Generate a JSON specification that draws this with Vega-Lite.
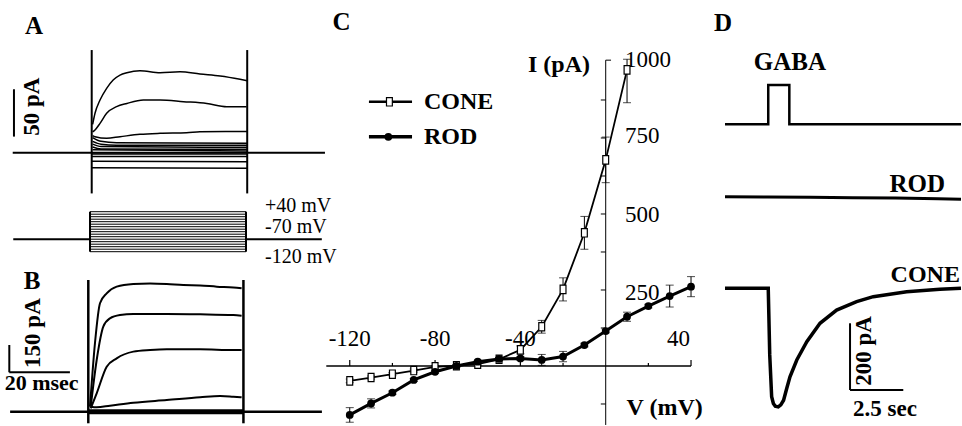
{
  "$schema": "https://vega.github.io/schema/vega-lite/v6.json",
  "width": 962,
  "height": 426,
  "padding": 0,
  "autosize": {"type": "none"},
  "background": "white",
  "config": {
    "view": {"stroke": null},
    "text": {"font": "Liberation Serif", "fontSize": 23, "color": "black"},
    "line": {"color": "black"},
    "rule": {"color": "black"},
    "tick": {"color": "black"}
  },
  "resolve": {"scale": {"x": "independent", "y": "independent"}},
  "datasets": {
    "cone": [
      {"V": -120, "I": -49, "lo": -55, "hi": -43},
      {"V": -110, "I": -38, "lo": -43, "hi": -33},
      {"V": -100, "I": -27, "lo": -32, "hi": -22},
      {"V": -90, "I": -15, "lo": -20, "hi": -10},
      {"V": -80, "I": -3, "lo": -7, "hi": 1},
      {"V": -70, "I": 1, "lo": -2, "hi": 4},
      {"V": -60, "I": 6, "lo": 3, "hi": 9},
      {"V": -50, "I": 22, "lo": 17, "hi": 27},
      {"V": -40, "I": 53, "lo": 40, "hi": 66},
      {"V": -30, "I": 129, "lo": 108, "hi": 150},
      {"V": -20, "I": 252, "lo": 214, "hi": 290},
      {"V": -10, "I": 438, "lo": 384, "hi": 492},
      {"V": 0, "I": 678, "lo": 603, "hi": 753},
      {"V": 10, "I": 974, "lo": 866, "hi": 1009}
    ],
    "rod": [
      {"V": -120, "I": -161, "lo": -185, "hi": -137},
      {"V": -110, "I": -123, "lo": -138, "hi": -108},
      {"V": -100, "I": -88, "lo": -94, "hi": -82},
      {"V": -90, "I": -46, "lo": -51, "hi": -41},
      {"V": -80, "I": -19, "lo": -24, "hi": -14},
      {"V": -70, "I": 0, "lo": -4, "hi": 4},
      {"V": -60, "I": 14, "lo": 10, "hi": 18},
      {"V": -50, "I": 23, "lo": 18, "hi": 28},
      {"V": -40, "I": 25, "lo": 19, "hi": 31},
      {"V": -30, "I": 20, "lo": 2, "hi": 38},
      {"V": -20, "I": 31, "lo": 14, "hi": 48},
      {"V": -10, "I": 69, "lo": 63, "hi": 75},
      {"V": 0, "I": 115, "lo": 109, "hi": 121},
      {"V": 10, "I": 162, "lo": 147, "hi": 177},
      {"V": 20, "I": 197, "lo": 191, "hi": 203},
      {"V": 30, "I": 230, "lo": 194, "hi": 266},
      {"V": 40, "I": 261, "lo": 228, "hi": 294}
    ]
  },
  "layer": [
    {
      "encoding": {
        "x": {"field": "t", "type": "quantitative", "scale": {"domain": [-29.49, 279.84], "nice": false, "zero": false}, "axis": null},
        "y": {"field": "I", "type": "quantitative", "scale": {"domain": [-288.6, 161.25], "nice": false, "zero": false}, "axis": null}
      },
      "layer": [
        {
          "data": {"values": [{"t": -25.4, "t2": 75, "I": 0}]},
          "mark": {"type": "rule", "strokeWidth": 2},
          "encoding": {"x2": {"field": "t2"}}
        },
        {
          "data": {"values": [
            {"t": 0, "I": -43, "I2": 108.4},
            {"t": 50, "I": -43, "I2": 108.4},
            {"t": -25, "I": 17, "I2": 67}
          ]},
          "mark": {"type": "rule", "strokeWidth": 2},
          "encoding": {"y2": {"field": "I2"}}
        },
        {
          "data": {"values": [
            {"k": 1, "t": 0.3, "I": 30}, {"k": 1, "t": 1.06, "I": 41.6}, {"k": 1, "t": 2.67, "I": 55.6}, {"k": 1, "t": 4.8, "I": 68}, {"k": 1, "t": 6.9, "I": 76.8}, {"k": 1, "t": 9.1, "I": 82}, {"k": 1, "t": 11.3, "I": 84.5}, {"k": 1, "t": 15.5, "I": 86.6}, {"k": 1, "t": 22, "I": 84.5}, {"k": 1, "t": 28.4, "I": 85.5}, {"k": 1, "t": 34.8, "I": 83.1}, {"k": 1, "t": 41.3, "I": 81}, {"k": 1, "t": 47.7, "I": 77.5}, {"k": 1, "t": 50, "I": 76},
            {"k": 2, "t": 0.3, "I": 22}, {"k": 2, "t": 1.06, "I": 24}, {"k": 2, "t": 2.67, "I": 31}, {"k": 2, "t": 4.8, "I": 41.6}, {"k": 2, "t": 8, "I": 48.6}, {"k": 2, "t": 11.3, "I": 52}, {"k": 2, "t": 16.6, "I": 55.6}, {"k": 2, "t": 22, "I": 55.6}, {"k": 2, "t": 29.5, "I": 53.9}, {"k": 2, "t": 37, "I": 52}, {"k": 2, "t": 43.4, "I": 48.6}, {"k": 2, "t": 49.8, "I": 48.6},
            {"k": 3, "t": 0.3, "I": 18}, {"k": 3, "t": 1.06, "I": 16.9}, {"k": 3, "t": 4.8, "I": 15.2}, {"k": 3, "t": 9.1, "I": 16.9}, {"k": 3, "t": 15.5, "I": 19.4}, {"k": 3, "t": 22, "I": 20.5}, {"k": 3, "t": 30.5, "I": 21.1}, {"k": 3, "t": 34.8, "I": 22.2}, {"k": 3, "t": 43, "I": 22.5}, {"k": 3, "t": 50, "I": 22.5},
            {"k": 4, "t": 0.3, "I": 16}, {"k": 4, "t": 3, "I": 12}, {"k": 4, "t": 8, "I": 10.5}, {"k": 4, "t": 50, "I": 10},
            {"k": 5, "t": 0.3, "I": 12}, {"k": 5, "t": 3, "I": 9}, {"k": 5, "t": 8, "I": 8}, {"k": 5, "t": 50, "I": 8},
            {"k": 6, "t": 0.3, "I": 9}, {"k": 6, "t": 3, "I": 6.5}, {"k": 6, "t": 50, "I": 5.7},
            {"k": 7, "t": 0.3, "I": 6}, {"k": 7, "t": 3, "I": 4}, {"k": 7, "t": 50, "I": 3.6},
            {"k": 8, "t": 0.3, "I": 3}, {"k": 8, "t": 50, "I": 1.8},
            {"k": 9, "t": 0, "I": -1.5}, {"k": 9, "t": 50, "I": -1.5},
            {"k": 10, "t": 0, "I": -4}, {"k": 10, "t": 50, "I": -4},
            {"k": 11, "t": 0, "I": -9}, {"k": 11, "t": 50, "I": -9.5},
            {"k": 12, "t": 0, "I": -16}, {"k": 12, "t": 50, "I": -16.5}
          ]},
          "mark": {"type": "line", "strokeWidth": 1.5, "interpolate": "monotone"},
          "encoding": {"detail": {"field": "k"}}
        },
        {
          "data": {"values": [{"t": -18.55, "I": 133.8, "s": "A"}]},
          "mark": {"type": "text", "fontWeight": "bold", "align": "center", "baseline": "middle", "fontSize": 25},
          "encoding": {"text": {"field": "s"}}
        },
        {
          "data": {"values": [{"t": -19.3, "I": 48.6, "s": "50 pA"}]},
          "mark": {"type": "text", "fontWeight": "bold", "align": "center", "baseline": "middle", "angle": 270, "fontSize": 23},
          "encoding": {"text": {"field": "s"}}
        }
      ]
    },
    {
      "encoding": {
        "x": {"field": "t", "type": "quantitative", "scale": {"domain": [-28.85, 279.5], "nice": false, "zero": false}, "axis": null},
        "y": {"field": "mV", "type": "quantitative", "scale": {"domain": [-817.2, 886.8], "nice": false, "zero": false}, "axis": null}
      },
      "layer": [
        {
          "data": {"values": [
            {"t": 0, "t2": 50, "mV": -120}, {"t": 0, "t2": 50, "mV": -110}, {"t": 0, "t2": 50, "mV": -100}, {"t": 0, "t2": 50, "mV": -90},
            {"t": 0, "t2": 50, "mV": -80}, {"t": 0, "t2": 50, "mV": -70}, {"t": 0, "t2": 50, "mV": -60}, {"t": 0, "t2": 50, "mV": -50},
            {"t": 0, "t2": 50, "mV": -40}, {"t": 0, "t2": 50, "mV": -30}, {"t": 0, "t2": 50, "mV": -20}, {"t": 0, "t2": 50, "mV": -10},
            {"t": 0, "t2": 50, "mV": 0}, {"t": 0, "t2": 50, "mV": 10}, {"t": 0, "t2": 50, "mV": 20}, {"t": 0, "t2": 50, "mV": 30},
            {"t": 0, "t2": 50, "mV": 40}
          ]},
          "mark": {"type": "rule", "strokeWidth": 1},
          "encoding": {"x2": {"field": "t2"}}
        },
        {
          "data": {"values": [{"t": -24.6, "t2": 0, "mV": -70}, {"t": 50, "t2": 74.3, "mV": -70}]},
          "mark": {"type": "rule", "strokeWidth": 2},
          "encoding": {"x2": {"field": "t2"}}
        },
        {
          "data": {"values": [{"t": 0, "mV": -120, "mV2": 40}, {"t": 50, "mV": -120, "mV2": 40}]},
          "mark": {"type": "rule", "strokeWidth": 2},
          "encoding": {"y2": {"field": "mV2"}}
        },
        {
          "data": {"values": [
            {"t": 56.1, "mV": 62, "s": "+40 mV"},
            {"t": 56.1, "mV": -22, "s": "-70 mV"},
            {"t": 56.1, "mV": -141.2, "s": "-120 mV"}
          ]},
          "mark": {"type": "text", "align": "left", "baseline": "middle", "fontSize": 20},
          "encoding": {"text": {"field": "s"}}
        }
      ]
    },
    {
      "encoding": {
        "x": {"field": "t", "type": "quantitative", "scale": {"domain": [-29.14, 288.35], "nice": false, "zero": false}, "axis": null},
        "y": {"field": "I", "type": "quantitative", "scale": {"domain": [-78.6, 2262], "nice": false, "zero": false}, "axis": null}
      },
      "layer": [
        {
          "data": {"values": [{"t": -25.8, "t2": 77.1, "I": 0}]},
          "mark": {"type": "rule", "strokeWidth": 2.5},
          "encoding": {"x2": {"field": "t2"}}
        },
        {
          "data": {"values": [{"t": 0, "t2": 51.2, "I": 0}]},
          "mark": {"type": "rule", "strokeWidth": 5},
          "encoding": {"x2": {"field": "t2"}}
        },
        {
          "data": {"values": [
            {"t": 0, "I": -63.7, "I2": 723.6},
            {"t": 51.2, "I": -63.7, "I2": 723.6}
          ]},
          "mark": {"type": "rule", "strokeWidth": 2.5},
          "encoding": {"y2": {"field": "I2"}}
        },
        {
          "data": {"values": [{"t": -26.07, "I": 216.5, "I2": 366.5}]},
          "mark": {"type": "rule", "strokeWidth": 2},
          "encoding": {"y2": {"field": "I2"}}
        },
        {
          "data": {"values": [{"t": -26.07, "t2": -6.07, "I": 216.5}]},
          "mark": {"type": "rule", "strokeWidth": 2},
          "encoding": {"x2": {"field": "t2"}}
        },
        {
          "data": {"values": [
            {"k": 1, "t": 0.56, "I": 27.5}, {"k": 1, "t": 2.2, "I": 376}, {"k": 1, "t": 3.86, "I": 596}, {"k": 1, "t": 6.07, "I": 650}, {"k": 1, "t": 9.37, "I": 687}, {"k": 1, "t": 14.85, "I": 702}, {"k": 1, "t": 20.4, "I": 705}, {"k": 1, "t": 25.9, "I": 702}, {"k": 1, "t": 31.35, "I": 696}, {"k": 1, "t": 36.9, "I": 694}, {"k": 1, "t": 42.4, "I": 687}, {"k": 1, "t": 47.9, "I": 683}, {"k": 1, "t": 50.6, "I": 678},
            {"k": 2, "t": 0.8, "I": 27.5}, {"k": 2, "t": 2.77, "I": 284}, {"k": 2, "t": 4.95, "I": 467}, {"k": 2, "t": 7.16, "I": 513}, {"k": 2, "t": 10.46, "I": 531}, {"k": 2, "t": 14.85, "I": 537}, {"k": 2, "t": 25.9, "I": 537}, {"k": 2, "t": 36.9, "I": 535}, {"k": 2, "t": 47.9, "I": 531}, {"k": 2, "t": 50.6, "I": 527},
            {"k": 3, "t": 0.8, "I": 18.7}, {"k": 3, "t": 2.77, "I": 101}, {"k": 3, "t": 6.07, "I": 247}, {"k": 3, "t": 9.37, "I": 293}, {"k": 3, "t": 14.85, "I": 330}, {"k": 3, "t": 20.4, "I": 339}, {"k": 3, "t": 25.9, "I": 343}, {"k": 3, "t": 36.9, "I": 343}, {"k": 3, "t": 47.9, "I": 339}, {"k": 3, "t": 50.6, "I": 339},
            {"k": 4, "t": 0.8, "I": 27.5}, {"k": 4, "t": 2.77, "I": 24}, {"k": 4, "t": 7.16, "I": 33}, {"k": 4, "t": 14.85, "I": 49.5}, {"k": 4, "t": 25.9, "I": 64}, {"k": 4, "t": 36.9, "I": 79}, {"k": 4, "t": 43.5, "I": 86}, {"k": 4, "t": 47.9, "I": 82}, {"k": 4, "t": 50.6, "I": 79}
          ]},
          "mark": {"type": "line", "strokeWidth": 2, "interpolate": "monotone"},
          "encoding": {"detail": {"field": "k"}}
        },
        {
          "data": {"values": [{"t": -18.58, "I": 718, "s": "B"}]},
          "mark": {"type": "text", "fontWeight": "bold", "align": "center", "baseline": "middle", "fontSize": 25},
          "encoding": {"text": {"field": "s"}}
        },
        {
          "data": {"values": [{"t": -15.4, "I": 155, "s": "20 msec"}]},
          "mark": {"type": "text", "fontWeight": "bold", "align": "center", "baseline": "middle", "fontSize": 22},
          "encoding": {"text": {"field": "s"}}
        },
        {
          "data": {"values": [{"t": -18.4, "I": 432, "s": "150 pA"}]},
          "mark": {"type": "text", "fontWeight": "bold", "align": "center", "baseline": "middle", "angle": 270, "fontSize": 23},
          "encoding": {"text": {"field": "s"}}
        }
      ]
    },
    {
      "encoding": {
        "x": {"field": "V", "type": "quantitative", "scale": {"domain": [-283.97, 167.04], "nice": false, "zero": false}, "axis": null},
        "y": {"field": "I", "type": "quantitative", "scale": {"domain": [-197.4, 1203.9], "nice": false, "zero": false}, "axis": null}
      },
      "layer": [
        {
          "data": {"values": [{"V": -131, "V2": 40, "I": 0}]},
          "mark": {"type": "rule", "strokeWidth": 1.5},
          "encoding": {"x2": {"field": "V2"}}
        },
        {
          "data": {"values": [{"V": 0, "I": -194, "I2": 1006}]},
          "mark": {"type": "rule", "strokeWidth": 1},
          "encoding": {"y2": {"field": "I2"}}
        },
        {
          "data": {"values": [
            {"V": -120, "I": 0, "I2": 20}, {"V": -80, "I": 0, "I2": 20}, {"V": -40, "I": 0, "I2": 20}, {"V": 40, "I": 0, "I2": 20},
            {"V": -100, "I": 0, "I2": 10}, {"V": -60, "I": 0, "I2": 10}, {"V": -20, "I": 0, "I2": 10}, {"V": 20, "I": 0, "I2": 10}
          ]},
          "mark": {"type": "rule", "strokeWidth": 1.2},
          "encoding": {"y2": {"field": "I2"}}
        },
        {
          "data": {"values": [
            {"V": 0, "V2": 2.5, "I": 1006},
            {"V": -2.3, "V2": 0, "I": 875}, {"V": -2.3, "V2": 0, "I": 750}, {"V": -2.3, "V2": 0, "I": 625},
            {"V": -2.3, "V2": 0, "I": 500}, {"V": -2.3, "V2": 0, "I": 375}, {"V": -2.3, "V2": 0, "I": 250},
            {"V": -2.3, "V2": 0, "I": 125}, {"V": -2.3, "V2": 0, "I": -125}
          ]},
          "mark": {"type": "rule", "strokeWidth": 1},
          "encoding": {"x2": {"field": "V2"}}
        },
        {
          "data": {"values": [
            {"V": -120, "I": 89, "s": "-120"}, {"V": -80, "I": 89, "s": "-80"}, {"V": -40, "I": 89, "s": "-40"}
          ]},
          "mark": {"type": "text", "align": "center", "baseline": "middle"},
          "encoding": {"text": {"field": "s"}}
        },
        {
          "data": {"values": [{"V": 39.5, "I": 89, "s": "40"}]},
          "mark": {"type": "text", "align": "right", "baseline": "middle"},
          "encoding": {"text": {"field": "s"}}
        },
        {
          "data": {"values": [
            {"V": 9.1, "I": 1006, "s": "1000"}, {"V": 9.1, "I": 756, "s": "750"},
            {"V": 9.1, "I": 497, "s": "500"}, {"V": 9.1, "I": 239, "s": "250"}
          ]},
          "mark": {"type": "text", "align": "left", "baseline": "middle"},
          "encoding": {"text": {"field": "s"}}
        },
        {
          "data": {"values": [{"V": -7.36, "I": 990, "s": "I (pA)"}]},
          "mark": {"type": "text", "align": "right", "baseline": "middle", "fontWeight": "bold", "fontSize": 24},
          "encoding": {"text": {"field": "s"}}
        },
        {
          "data": {"values": [{"V": 9.8, "I": -138, "s": "V (mV)"}, {"V": -85.2, "I": 869, "s": "CONE"}, {"V": -85.2, "I": 754, "s": "ROD"}]},
          "mark": {"type": "text", "align": "left", "baseline": "middle", "fontWeight": "bold", "fontSize": 24},
          "encoding": {"text": {"field": "s"}}
        },
        {
          "data": {"values": [{"V": -123.9, "I": 1131.6, "s": "C"}]},
          "mark": {"type": "text", "align": "center", "baseline": "middle", "fontWeight": "bold", "fontSize": 25},
          "encoding": {"text": {"field": "s"}}
        },
        {
          "data": {"values": [{"V": -111, "V2": -90.8, "I": 869}]},
          "mark": {"type": "rule", "strokeWidth": 2.5},
          "encoding": {"x2": {"field": "V2"}}
        },
        {
          "data": {"values": [{"V": -111, "V2": -90.8, "I": 754}]},
          "mark": {"type": "rule", "strokeWidth": 3.5},
          "encoding": {"x2": {"field": "V2"}}
        },
        {
          "data": {"name": "cone"},
          "mark": {"type": "line", "strokeWidth": 1.8},
          "encoding": {}
        },
        {
          "data": {"name": "rod"},
          "mark": {"type": "line", "strokeWidth": 3},
          "encoding": {}
        },
        {
          "data": {"name": "cone"},
          "mark": {"type": "rule", "strokeWidth": 1},
          "encoding": {
            "y": {"field": "lo", "type": "quantitative", "scale": {"domain": [-197.4, 1203.9], "nice": false, "zero": false}, "axis": null},
            "y2": {"field": "hi"}
          }
        },
        {
          "data": {"name": "rod"},
          "mark": {"type": "rule", "strokeWidth": 1},
          "encoding": {
            "y": {"field": "lo", "type": "quantitative", "scale": {"domain": [-197.4, 1203.9], "nice": false, "zero": false}, "axis": null},
            "y2": {"field": "hi"}
          }
        },
        {
          "data": {"name": "cone"},
          "mark": {"type": "tick", "orient": "horizontal", "size": 8, "thickness": 1},
          "encoding": {"y": {"field": "lo", "type": "quantitative", "scale": {"domain": [-197.4, 1203.9], "nice": false, "zero": false}, "axis": null}}
        },
        {
          "data": {"name": "cone"},
          "mark": {"type": "tick", "orient": "horizontal", "size": 8, "thickness": 1},
          "encoding": {"y": {"field": "hi", "type": "quantitative", "scale": {"domain": [-197.4, 1203.9], "nice": false, "zero": false}, "axis": null}}
        },
        {
          "data": {"name": "rod"},
          "mark": {"type": "tick", "orient": "horizontal", "size": 8, "thickness": 1},
          "encoding": {"y": {"field": "lo", "type": "quantitative", "scale": {"domain": [-197.4, 1203.9], "nice": false, "zero": false}, "axis": null}}
        },
        {
          "data": {"name": "rod"},
          "mark": {"type": "tick", "orient": "horizontal", "size": 8, "thickness": 1},
          "encoding": {"y": {"field": "hi", "type": "quantitative", "scale": {"domain": [-197.4, 1203.9], "nice": false, "zero": false}, "axis": null}}
        },
        {
          "data": {"name": "cone"},
          "mark": {"type": "point", "shape": "M-0.7,-1H0.7V1H-0.7Z", "size": 70, "filled": true, "fill": "white", "stroke": "black", "strokeWidth": 1.2, "opacity": 1},
          "encoding": {}
        },
        {
          "data": {"values": [{"V": -101.4, "I": 869}]},
          "mark": {"type": "point", "shape": "M-0.7,-1H0.7V1H-0.7Z", "size": 70, "filled": true, "fill": "white", "stroke": "black", "strokeWidth": 1.2, "opacity": 1},
          "encoding": {}
        },
        {
          "data": {"name": "rod"},
          "mark": {"type": "point", "shape": "circle", "size": 60, "filled": true, "fill": "black", "opacity": 1},
          "encoding": {}
        },
        {
          "data": {"values": [{"V": -101.9, "I": 754}]},
          "mark": {"type": "point", "shape": "circle", "size": 60, "filled": true, "fill": "black", "opacity": 1},
          "encoding": {}
        }
      ]
    },
    {
      "encoding": {
        "x": {"field": "t", "type": "quantitative", "scale": {"domain": [-34.04, 11.127], "nice": false, "zero": false}, "axis": null},
        "y": {"field": "v", "type": "quantitative", "scale": {"domain": [-7.677, 3.163], "nice": false, "zero": false}, "axis": null}
      },
      "layer": [
        {
          "data": {"values": [
            {"i": 1, "t": 0, "v": 0}, {"i": 2, "t": 2.03, "v": 0}, {"i": 3, "t": 2.03, "v": 1},
            {"i": 4, "t": 3.02, "v": 1}, {"i": 5, "t": 3.02, "v": 0}, {"i": 6, "t": 11.08, "v": 0}
          ]},
          "mark": {"type": "line", "strokeWidth": 2.5},
          "encoding": {"order": {"field": "i"}}
        },
        {
          "data": {"values": [{"t": -0.09, "v": 2.58, "s": "D"}]},
          "mark": {"type": "text", "align": "center", "baseline": "middle", "fontWeight": "bold", "fontSize": 25},
          "encoding": {"text": {"field": "s"}}
        },
        {
          "data": {"values": [{"t": 3.05, "v": 1.585, "s": "GABA"}]},
          "mark": {"type": "text", "align": "center", "baseline": "middle", "fontWeight": "bold", "fontSize": 25},
          "encoding": {"text": {"field": "s"}}
        }
      ]
    },
    {
      "encoding": {
        "x": {"field": "t", "type": "quantitative", "scale": {"domain": [-34.04, 11.127], "nice": false, "zero": false}, "axis": null},
        "y": {"field": "I", "type": "quantitative", "scale": {"domain": [-688.6, 590.7], "nice": false, "zero": false}, "axis": null}
      },
      "layer": [
        {
          "data": {"values": [
            {"t": 0, "I": 0}, {"t": 2, "I": -1}, {"t": 4, "I": -2}, {"t": 6, "I": -3},
            {"t": 8, "I": -4}, {"t": 10, "I": -6}, {"t": 11.08, "I": -8}
          ]},
          "mark": {"type": "line", "strokeWidth": 3},
          "encoding": {}
        },
        {
          "data": {"values": [{"t": 10.33, "I": 38, "s": "ROD"}]},
          "mark": {"type": "text", "align": "right", "baseline": "middle", "fontWeight": "bold", "fontSize": 25},
          "encoding": {"text": {"field": "s"}}
        }
      ]
    },
    {
      "encoding": {
        "x": {"field": "t", "type": "quantitative", "scale": {"domain": [-34.04, 11.127], "nice": false, "zero": false}, "axis": null},
        "y": {"field": "I", "type": "quantitative", "scale": {"domain": [-413.5, 865.8], "nice": false, "zero": false}, "axis": null}
      },
      "layer": [
        {
          "data": {"values": [
            {"t": 0, "I": 0}, {"t": 1, "I": 0}, {"t": 2.03, "I": 0}, {"t": 2.1, "I": -200},
            {"t": 2.19, "I": -325.5}, {"t": 2.27, "I": -346}, {"t": 2.36, "I": -354}, {"t": 2.5, "I": -356}, {"t": 2.62, "I": -350},
            {"t": 2.75, "I": -336}, {"t": 2.9, "I": -300},
            {"t": 3.05, "I": -265.5}, {"t": 3.37, "I": -215.3}, {"t": 3.84, "I": -160.4}, {"t": 4.46, "I": -105},
            {"t": 5.24, "I": -65.2}, {"t": 6.18, "I": -40.2}, {"t": 6.96, "I": -25.2}, {"t": 8.53, "I": -10.2},
            {"t": 10.09, "I": -3}, {"t": 11.08, "I": 0}
          ]},
          "mark": {"type": "line", "strokeWidth": 3.5},
          "encoding": {}
        },
        {
          "data": {"values": [{"t": 5.87, "I": -305.4, "I2": -105}]},
          "mark": {"type": "rule", "strokeWidth": 2},
          "encoding": {"y2": {"field": "I2"}}
        },
        {
          "data": {"values": [{"t": 5.87, "t2": 8.37, "I": -305.4}]},
          "mark": {"type": "rule", "strokeWidth": 2},
          "encoding": {"x2": {"field": "t2"}}
        },
        {
          "data": {"values": [{"t": 11.03, "I": 40, "s": "CONE"}]},
          "mark": {"type": "text", "align": "right", "baseline": "middle", "fontWeight": "bold", "fontSize": 24},
          "encoding": {"text": {"field": "s"}}
        },
        {
          "data": {"values": [{"t": 7.51, "I": -362, "s": "2.5 sec"}]},
          "mark": {"type": "text", "align": "center", "baseline": "middle", "fontWeight": "bold", "fontSize": 23},
          "encoding": {"text": {"field": "s"}}
        },
        {
          "data": {"values": [{"t": 6.53, "I": -188, "s": "200 pA"}]},
          "mark": {"type": "text", "align": "center", "baseline": "middle", "fontWeight": "bold", "angle": 270, "fontSize": 23},
          "encoding": {"text": {"field": "s"}}
        }
      ]
    }
  ]
}
